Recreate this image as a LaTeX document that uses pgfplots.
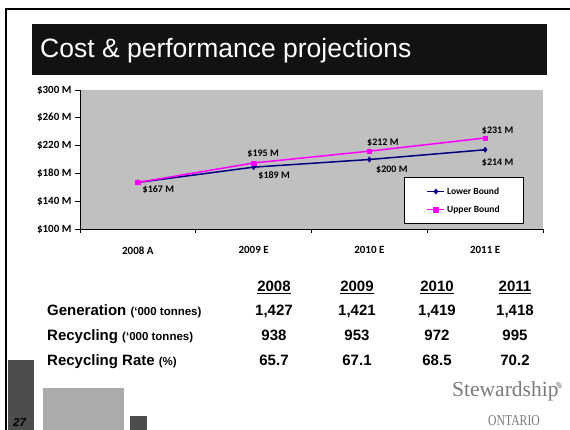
\documentclass[border=0pt]{standalone}
\usepackage{pgfplots}
\pgfplotsset{compat=1.18}
\usepackage{fontspec}
\setmainfont{Liberation Sans}
\newfontfamily\carlito{Carlito}
\newfontfamily\tnr{Liberation Serif}
\newfontfamily\ontfont[FakeStretch=0.78]{Liberation Serif}

\definecolor{navyc}{HTML}{000080}
\definecolor{magc}{HTML}{FF00FF}
\definecolor{plotgray}{HTML}{C0C0C0}
\definecolor{darkblock}{HTML}{4D4D4D}
\definecolor{lightblock}{HTML}{ABABAB}
\definecolor{logogray}{HTML}{7A7A7A}

\pgfplotsset{
  lbl/.style 2 args={
    forget plot, draw=none, mark=none,
    nodes near coords={\$\pgfmathprintnumber{\pgfplotspointmeta}~M},
    point meta=y,
    every node near coord/.append style={anchor=center, text=black, inner sep=0,
      font=\carlito\bfseries\fontsize{10}{11}\selectfont, xshift=#1pt, yshift=#2pt},
  }
}

\begin{document}
\begin{tikzpicture}
\begin{scope}[x=1pt,y=-1pt]
\path[use as bounding box] (0,0) rectangle (570,430);
\fill[white] (0,0) rectangle (570,430);
% slide border
\draw[line width=2pt] (6,430) -- (6,9) -- (570,9);
% title bar
\fill[black!93] (32,24) rectangle (547,75);
\node[anchor=base west, text=white, inner sep=0, font=\fontsize{26.5}{30}\selectfont] at (40,58) {Cost \& performance projections};
% table
\begin{scope}[every node/.style={inner sep=0, font=\bfseries\fontsize{15}{18}\selectfont}]
\node[anchor=base west] at (47,315) {Generation {\fontsize{11.5}{13}\selectfont (`000 tonnes)}};
\node[anchor=base west] at (47,340) {Recycling {\fontsize{11.5}{13}\selectfont (`000 tonnes)}};
\node[anchor=base west] at (47,365) {Recycling Rate {\fontsize{11.5}{13}\selectfont (\%)}};
\node[anchor=base] (h1) at (274,291) {2008};
\node[anchor=base] (h2) at (357,291) {2009};
\node[anchor=base] (h3) at (437,291) {2010};
\node[anchor=base] (h4) at (515,291) {2011};
\foreach \h in {h1,h2,h3,h4}{\draw[line width=1.3pt] ([yshift=-2.6pt]\h.base west) -- ([yshift=-2.6pt]\h.base east);}
\node[anchor=base] at (274,315) {1,427};
\node[anchor=base] at (357,315) {1,421};
\node[anchor=base] at (437,315) {1,419};
\node[anchor=base] at (515,315) {1,418};
\node[anchor=base] at (274,340) {938};
\node[anchor=base] at (357,340) {953};
\node[anchor=base] at (437,340) {972};
\node[anchor=base] at (515,340) {995};
\node[anchor=base] at (274,365) {65.7};
\node[anchor=base] at (357,365) {67.1};
\node[anchor=base] at (437,365) {68.5};
\node[anchor=base] at (515,365) {70.2};
\end{scope}
% bottom blocks
\fill[darkblock] (8,360) rectangle (34,430);
\fill[lightblock] (43,388) rectangle (124,430);
\fill[darkblock] (130,416) rectangle (147,430);
\node[anchor=base west, inner sep=0, font=\bfseries\itshape\fontsize{11.5}{13}\selectfont] at (13,426) {27};
% logo
\node[anchor=base west, inner sep=0, text=logogray, font=\tnr\fontsize{21.5}{24}\selectfont] at (452,396) {Stewardship};
\node[anchor=base, inner sep=0, text=logogray, font=\ontfont\fontsize{15}{17}\selectfont] at (514,425) {ONTARIO};
\fill[black!25, rotate around={35:(559,385)}] (559,385) ellipse (2.2 and 4);
\end{scope}

\begin{axis}[
  at={(80pt,-229pt)}, anchor=south west,
  scale only axis, width=463pt, height=139pt,
  xmin=-0.5, xmax=3.5, ymin=100, ymax=300,
  axis x line*=bottom, axis y line*=left,
  axis line style={black, line width=0.8pt},
  axis background/.style={fill=plotgray},
  xtick={0,1,2,3}, xticklabels={2008 A,2009 E,2010 E,2011 E},
  major x tick style={draw=none},
  minor xtick={-0.5,0.5,1.5,2.5,3.5},
  minor tick length=4pt,
  ytick={100,140,...,300},
  yticklabel={\$\pgfmathprintnumber{\tick} M},
  tick align=outside, major tick length=5pt,
  tick style={black, line width=0.8pt},
  ticklabel style={font=\carlito\bfseries\fontsize{11}{12}\selectfont},
  /pgf/number format/assume math mode=true,
  xticklabel style={yshift=-9pt},
  legend cell align=left,
  legend style={at={(0.959,0.374)}, anchor=north east, draw=black, line width=0.8pt, fill=white,
    font=\carlito\bfseries\fontsize{9.5}{11}\selectfont, inner xsep=22pt, inner ysep=8pt, row sep=6pt},
]
\addplot[color=navyc, line width=1.5pt, mark=diamond*, mark size=2.6pt, mark options={solid, line width=0.5pt}] coordinates {(0,167) (1,189) (2,200) (3,214)};
\addlegendentry{Lower Bound}
\addplot[color=magc, line width=1.5pt, mark=square*, mark size=2.2pt, mark options={solid, line width=0.5pt}] coordinates {(0,167) (1,195) (2,212) (3,231)};
\addlegendentry{Upper Bound}
% data labels
\addplot[lbl={20.5}{-7}] coordinates {(0,167)};
\addplot[lbl={20.5}{-8}] coordinates {(1,189)};
\addplot[lbl={22.5}{-10}] coordinates {(2,200)};
\addplot[lbl={12.5}{-13}] coordinates {(3,214)};
\addplot[lbl={9.5}{9}] coordinates {(1,195)};
\addplot[lbl={13.5}{8}] coordinates {(2,212)};
\addplot[lbl={12.5}{7}] coordinates {(3,231)};
\end{axis}
\end{tikzpicture}
\end{document}
